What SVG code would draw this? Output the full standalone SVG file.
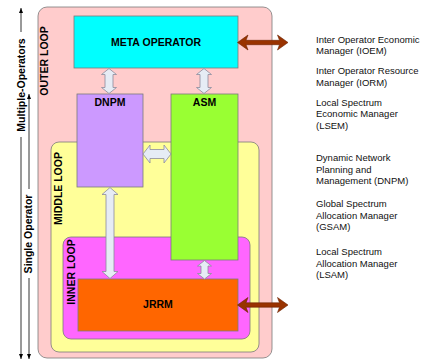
<svg xmlns="http://www.w3.org/2000/svg" width="432" height="360" viewBox="0 0 432 360">
<style>
.box{stroke:#7a7a7a;stroke-width:0.8}
.lbl{font-family:"Liberation Sans",Arial,sans-serif;font-weight:bold;font-size:10.5px;fill:#000}
.side{font-family:"Liberation Sans",Arial,sans-serif;font-size:9.5px;fill:#111}
.wa{fill:#E6ECF5;stroke:#8c8c9c;stroke-width:0.8}
.ba{fill:#993300;stroke:#6b2200;stroke-width:0.6}
.ln{stroke:#000;stroke-width:0.8;fill:none}
</style>
<defs>
<marker id="ah" markerWidth="6" markerHeight="6" refX="5" refY="3" orient="auto" markerUnits="userSpaceOnUse">
<path d="M0,1 L5,3 L0,5 Z" fill="#000"/>
</marker>
</defs>
<g id="outer-loop">
<rect class="box" x="38" y="7" width="234" height="351" rx="9" fill="#FFCCCC"/>
<text class="lbl" transform="translate(48,61) rotate(-90)" text-anchor="middle">OUTER LOOP</text>
</g>
<g id="meta-operator">
<rect class="box" x="74" y="16" width="164" height="52" fill="#00FFFF"/>
<text class="lbl" x="156" y="45.5" text-anchor="middle">META OPERATOR</text>
</g>
<g id="middle-loop">
<rect class="box" x="51" y="142" width="208" height="210" rx="8" fill="#FFFF99"/>
<text class="lbl" transform="translate(61.5,188.5) rotate(-90)" text-anchor="middle">MIDDLE LOOP</text>
</g>
<g id="dnpm">
<rect class="box" x="77" y="94" width="66" height="93" fill="#CC99FF"/>
<text class="lbl" x="110" y="106" text-anchor="middle">DNPM</text>
</g>
<g id="inner-loop">
<rect class="box" x="63" y="237" width="187" height="102" rx="8" fill="#FF66FF"/>
<text class="lbl" transform="translate(74.5,272) rotate(-90)" text-anchor="middle">INNER LOOP</text>
</g>
<g id="asm">
<rect class="box" x="171" y="94" width="67" height="166" fill="#99FF33"/>
<text class="lbl" x="204.5" y="106" text-anchor="middle">ASM</text>
</g>
<g id="jrrm">
<rect class="box" x="78" y="279" width="160" height="52" fill="#FF6600"/>
<text class="lbl" x="158" y="308" text-anchor="middle">JRRM</text>
</g>
<g id="connectors">
<path class="wa" d="M109,68.5 L116.5,74.5 L113,74.5 L113,87.5 L116.5,87.5 L109,93.5 L101.5,87.5 L105,87.5 L105,74.5 L101.5,74.5 Z"/>
<path class="wa" d="M204,68.5 L211.5,74.5 L208,74.5 L208,87.5 L211.5,87.5 L204,93.5 L196.5,87.5 L200,87.5 L200,74.5 L196.5,74.5 Z"/>
<path class="wa" d="M143,154 L150,145 L150,149.5 L164,149.5 L164,145 L171,154 L164,163 L164,158.5 L150,158.5 L150,163 Z"/>
<path class="wa" d="M110,187.5 L118,194.5 L114,194.5 L114,271.5 L118,271.5 L110,278.5 L102,271.5 L106,271.5 L106,194.5 L102,194.5 Z"/>
<path class="wa" d="M204.5,260.5 L211.5,266 L208,266 L208,273.5 L211.5,273.5 L204.5,279 L197.5,273.5 L201,273.5 L201,266 L197.5,266 Z"/>
<path class="ba" d="M237.5,42.5 L248,35 L246,40.3 L279.5,40.3 L277.5,35 L288,42.5 L277.5,50 L279.5,44.7 L246,44.7 L248,50 Z"/>
<path class="ba" d="M237.5,305 L248,297.5 L246,302.8 L279.5,302.8 L277.5,297.5 L288,305 L277.5,312.5 L279.5,307.2 L246,307.2 L248,312.5 Z"/>
<line class="ln" x1="21" y1="32" x2="21" y2="8" marker-end="url(#ah)"/>
<line class="ln" x1="21" y1="137" x2="21" y2="359" marker-end="url(#ah)"/>
<line class="ln" x1="29" y1="189" x2="29" y2="94" marker-end="url(#ah)"/>
<line class="ln" x1="29" y1="278" x2="29" y2="359" marker-end="url(#ah)"/>
</g>
<g id="scope-labels">
<text class="lbl" transform="translate(24.5,85) rotate(-90)" text-anchor="middle">Multiple-Operators</text>
<text class="lbl" transform="translate(32,234) rotate(-90)" text-anchor="middle">Single Operator</text>
</g>
<g id="legend">
<text class="side" x="316" y="42.5">Inter Operator Economic</text>
<text class="side" x="316" y="54">Manager (IOEM)</text>
<text class="side" x="316" y="74">Inter Operator Resource</text>
<text class="side" x="316" y="85.5">Manager (IORM)</text>
<text class="side" x="316" y="105.5">Local Spectrum</text>
<text class="side" x="316" y="117">Economic Manager</text>
<text class="side" x="316" y="128.5">(LSEM)</text>
<text class="side" x="316" y="161">Dynamic Network</text>
<text class="side" x="316" y="172.5">Planning and</text>
<text class="side" x="316" y="184">Management (DNPM)</text>
<text class="side" x="316" y="207">Global Spectrum</text>
<text class="side" x="316" y="218.5">Allocation Manager</text>
<text class="side" x="316" y="230">(GSAM)</text>
<text class="side" x="316" y="255">Local Spectrum</text>
<text class="side" x="316" y="266.5">Allocation Manager</text>
<text class="side" x="316" y="278">(LSAM)</text>
</g>
</svg>
